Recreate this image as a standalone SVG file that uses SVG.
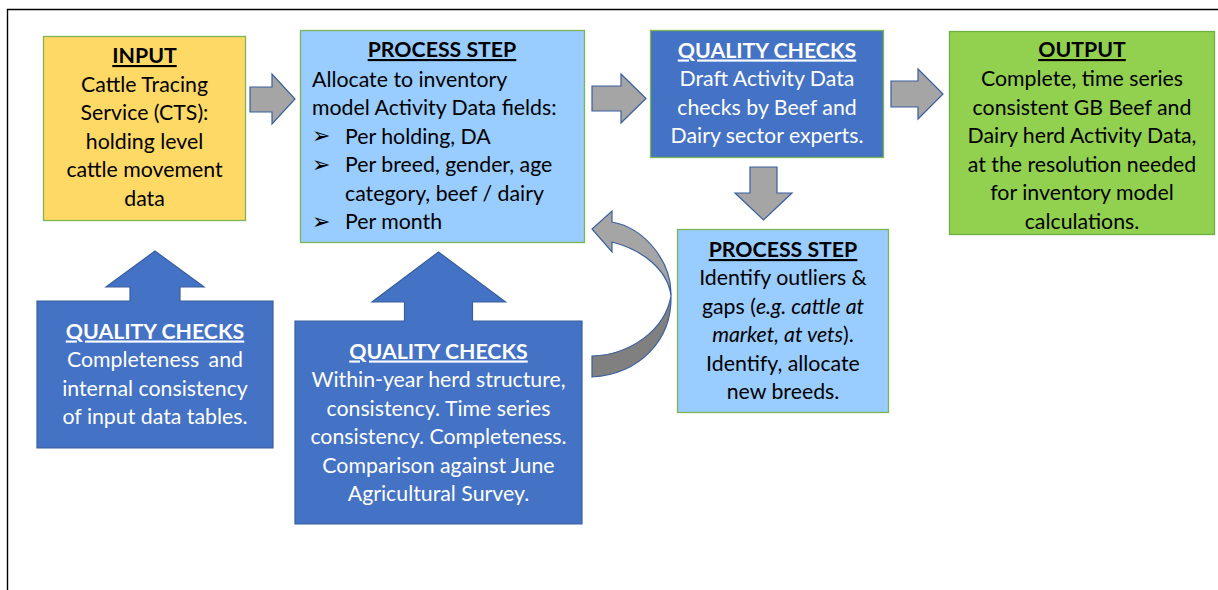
<svg xmlns="http://www.w3.org/2000/svg" width="1218" height="590" viewBox="0 0 1218 590">
<style>
.t{font-family:Lato,"Liberation Sans",sans-serif;font-size:21.3px;fill:#000}
.w{fill:#fff}
.h{font-weight:bold;text-decoration:underline}
.c{text-anchor:middle}
.box{stroke:#7DB554;stroke-width:1.3}
.blue{fill:#4472C4}
.lb{fill:#99CCFF}
.call{fill:#4472C4;stroke:#3A5E9E;stroke-width:1.2}
.ga{fill:#A5A5A5;stroke:#3A5E9E;stroke-width:1.2}
.bul{font-family:"DejaVu Sans",sans-serif;font-size:22px}
</style>
<rect width="1218" height="590" fill="#fff"/>
<path d="M7.5,590 V9.5 H1218" fill="none" stroke="#000" stroke-width="1.4"/>

<g id="connectors">
<path class="ga" d="M250,87 H272 V74 L295,99 L272,124 V112 H250 Z"/>
<path class="ga" d="M592,86 H621 V74 L646,98.5 L621,123 V111 H592 Z"/>
<path class="ga" d="M891,81 H918 V69 L943,94 L918,119 V107 H891 Z"/>
<path class="ga" d="M750,167 H777 V193 H792 L763.5,220 L735,193 H750 Z"/>
<path d="M592,377 C640,374 672,340 671,296 C665,330 630,355 592,356 Z" fill="#808080" stroke="#3A5E9E" stroke-width="1.2"/>
<path d="M671,296 C672,262 645,228 612,222 V211 L592,229 L612,252 V242 C643,250 668,270 671,296 Z" fill="#A5A5A5" stroke="#3A5E9E" stroke-width="1.2"/>
</g>

<g id="input">
<rect class="box" x="43.5" y="36.5" width="202" height="184" fill="#FFD966"/>
<text class="t c h" x="144.5" y="63">INPUT</text>
<text class="t c" x="144.5" y="91.5">Cattle Tracing</text>
<text class="t c" x="144.5" y="120">Service (CTS):</text>
<text class="t c" x="144.5" y="148.5">holding level</text>
<text class="t c" x="144.5" y="177">cattle movement</text>
<text class="t c" x="144.5" y="205.5">data</text>
</g>

<g id="process1">
<rect class="box lb" x="300.5" y="30.5" width="284" height="212"/>
<text class="t c h" x="442" y="57">PROCESS STEP</text>
<text class="t" x="312" y="86.5">Allocate to inventory</text>
<text class="t" x="312" y="115">model Activity Data fields:</text>
<text class="bul" x="312" y="143">➢</text>
<text class="t" x="345" y="143.5">Per holding, DA</text>
<text class="bul" x="312" y="171.5">➢</text>
<text class="t" x="345" y="172">Per breed, gender, age</text>
<text class="t" x="345" y="200.5">category, beef / dairy</text>
<text class="bul" x="312" y="228.5">➢</text>
<text class="t" x="345" y="229">Per month</text>
</g>

<g id="qc-draft">
<rect class="box blue" x="650.5" y="30.5" width="233" height="127"/>
<text class="t w c h" x="767" y="57.5">QUALITY CHECKS</text>
<text class="t w c" x="767" y="86">Draft Activity Data</text>
<text class="t w c" x="767" y="114.5">checks by Beef and</text>
<text class="t w c" x="767" y="143">Dairy sector experts.</text>
</g>

<g id="output">
<rect x="949.5" y="31.5" width="265" height="203" fill="#92D050" stroke="#6FAE45" stroke-width="1.3"/>
<text class="t c h" x="1082" y="57">OUTPUT</text>
<text class="t c" x="1082" y="86">Complete, time series</text>
<text class="t c" x="1082" y="114.5">consistent GB Beef and</text>
<text class="t c" x="1082" y="143">Dairy herd Activity Data,</text>
<text class="t c" x="1082" y="171.5">at the resolution needed</text>
<text class="t c" x="1082" y="200">for inventory model</text>
<text class="t c" x="1082" y="228.5">calculations.</text>
</g>

<g id="process2">
<rect class="box lb" x="677.5" y="229.5" width="211" height="183"/>
<text class="t c h" x="783" y="257">PROCESS STEP</text>
<text class="t c" x="783" y="285">Identify outliers &amp;</text>
<text class="t c" x="783" y="313.5">gaps (<tspan font-style="italic">e.g. cattle at</tspan></text>
<text class="t c" x="783" y="342"><tspan font-style="italic">market, at vets</tspan>).</text>
<text class="t c" x="783" y="370.5">Identify, allocate</text>
<text class="t c" x="783" y="399">new breeds.</text>
</g>

<g id="qc-input">
<path class="call" d="M37,301 H130 V287 H106 L155,251 L204,287 H180 V301 H273 V448 H37 Z"/>
<text class="t w c h" x="155" y="338.5">QUALITY CHECKS</text>
<text class="t w c" x="155" y="367" word-spacing="4">Completeness and</text>
<text class="t w c" x="155" y="395.5">internal consistency</text>
<text class="t w c" x="155" y="424">of input data tables.</text>
</g>

<g id="qc-herd">
<path class="call" d="M295,321 H404.5 V302 H372 L438.5,252 L505.5,302 H472.5 V321 H582 V524 H295 Z"/>
<text class="t w c h" x="438.5" y="358.5">QUALITY CHECKS</text>
<text class="t w c" x="438.5" y="387">Within-year herd structure,</text>
<text class="t w c" x="438.5" y="415.5">consistency. Time series</text>
<text class="t w c" x="438.5" y="444">consistency. Completeness.</text>
<text class="t w c" x="438.5" y="472.5">Comparison against June</text>
<text class="t w c" x="438.5" y="501">Agricultural Survey.</text>
</g>
</svg>
